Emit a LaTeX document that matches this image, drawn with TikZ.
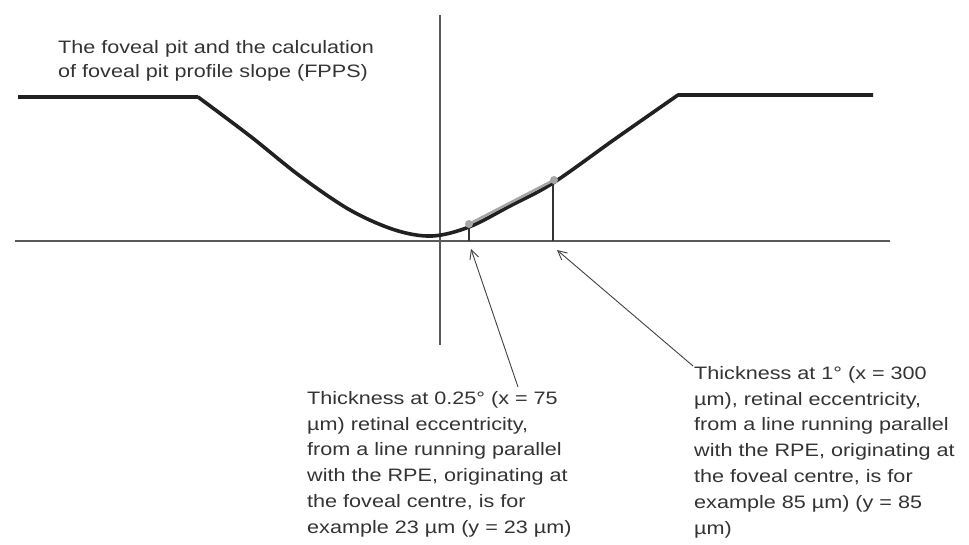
\documentclass[tikz,border=0pt]{standalone}
\usepackage{fontspec}
\setmainfont[FakeStretch=1.2]{Liberation Sans}
\usetikzlibrary{arrows.meta}
\begin{document}
\begin{tikzpicture}[x=1pt,y=-1pt,
  axis/.style={draw=black!65,line width=1.8pt},
  profile/.style={draw=black!87,line width=3.6pt,line join=round},
  tick/.style={draw=black!80,line width=1.3pt},
  chord/.style={draw=black!35,line width=2.6pt},
  pointer/.style={draw=black!75,line width=0.9pt,-{Straight Barb[length=9pt,width=9pt,line width=0.9pt]}},
  label/.style={font=\fontsize{18}{25.8}\selectfont,text=black!80,align=left,inner sep=0pt}]
\useasboundingbox (0,0) rectangle (969,544);
% axes
\draw[axis] (15,241) -- (890,241);
\draw[axis] (440,15) -- (440,345);
% profile
\draw[profile] (18,97) -- (198,97)
  plot[smooth,tension=0.55] coordinates {(198,97) (250,136) (300,176) (350,210) (395,230) (432,236) (469,227) (510,206) (553,183) (615,139) (678,95)}
  -- (873,95);
% thickness lines
\coordinate (p1) at (469,226);
\coordinate (p2) at (553,183);
\draw[tick] (p1) -- (469,241);
\draw[tick] (p2) -- (553,241);
\draw[chord] (469,224) -- (554,180);
\fill[black!35] (469,224) circle (4);
\fill[black!35] (554,180) circle (4);
% texts
\node[label,anchor=north west,font=\fontsize{18}{24}\selectfont] (title) at (58,40) {The foveal pit and the calculation\\of foveal pit profile slope (FPPS)};
\node[label,anchor=north west] (t1) at (307,391) {Thickness at 0.25° (x = 75\\µm) retinal eccentricity,\\from a line running parallel\\with the RPE, originating at\\the foveal centre, is for\\example 23 µm (y = 23 µm)};
\node[label,anchor=north west] (t2) at (694,366) {Thickness at 1° (x = 300\\µm), retinal eccentricity,\\from a line running parallel\\with the RPE, originating at\\the foveal centre, is for\\example 85 µm) (y = 85\\µm)};
% pointers
\coordinate (a1) at (518,387);
\coordinate (a2) at (693,366);
\coordinate (h1) at (471,249);
\coordinate (h2) at (557,250);
\draw[pointer] (a1) -- (h1);
\draw[pointer] (a2) -- (h2);
\end{tikzpicture}
\end{document}
